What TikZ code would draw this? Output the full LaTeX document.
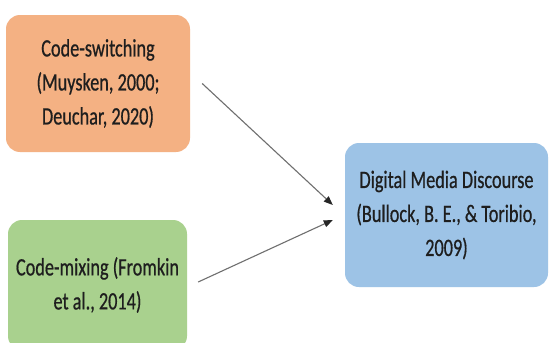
\documentclass[tikz,border=0pt]{standalone}
\usepackage{fontspec}
\setmainfont{Carlito}[FakeStretch=0.73,FakeBold=0.6]
\usetikzlibrary{arrows.meta}
\definecolor{boxorange}{HTML}{F4B183}
\definecolor{boxgreen}{HTML}{A9D18E}
\definecolor{boxblue}{HTML}{9DC3E6}
\definecolor{txt}{HTML}{1E1E1E}
\definecolor{conn}{HTML}{6F6F6F}
\tikzset{
  box/.style={rounded corners=14pt, align=center, inner sep=0pt, text=txt,
    font=\fontsize{25}{34}\selectfont},
  conn/.style={draw=conn, line width=1.1pt, -{Triangle[length=9pt,width=7pt,fill=black!85,color=black!85]}}
}
\begin{document}
\begin{tikzpicture}[x=1pt,y=-1pt]
\useasboundingbox (0,0) rectangle (550,343);
\clip (0,0) rectangle (550,343);
\fill[white] (0,0) rectangle (550,343);
\node[box, fill=boxorange, minimum width=184pt, minimum height=137pt] (cs) at (98,83.5)
  {Code-switching\\(Muysken, 2000;\\Deuchar, 2020)};
\node[box, fill=boxgreen, minimum width=179pt, minimum height=130pt] (cm) at (97.5,285)
  {Code-mixing (Fromkin\\et al., 2014)};
\node[box, fill=boxblue, minimum width=203pt, minimum height=144pt] (dm) at (446.5,215)
  {Digital Media Discourse\\(Bullock, B. E., \& Toribio,\\2009)};
\draw[conn] ([xshift=12pt]cs.east) -- ([xshift=-12pt,yshift=10pt]dm.west);
\draw[conn] ([xshift=11pt,yshift=3pt]cm.east) -- ([xshift=-12pt,yshift=-5pt]dm.west);
\end{tikzpicture}
\end{document}
